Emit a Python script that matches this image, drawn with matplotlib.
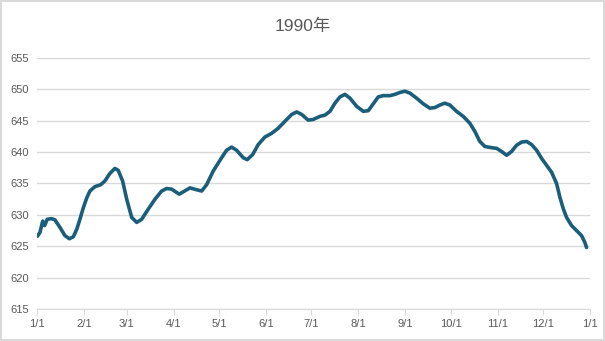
import numpy as np
import pandas as pd
from matplotlib import pyplot as plt

# day offset from 1990-01-01 and value
days = [0, 1.7, 3.5, 4.8, 6.5, 9.4, 11.6, 14.9, 18.2, 21.1, 23.7, 26, 28.1, 30.3, 32.6,
        34.7, 38, 41.8, 44.6, 47.9, 51.2, 53.4, 56.3, 59, 62.3, 65.6, 68.9, 73.2, 77.7,
        82.1, 85.4, 88.7, 93.7, 100.8, 105.2, 108.5, 111.8, 116.2, 121.7, 125, 128.3,
        131.6, 136, 138.6, 142.2, 145.9, 150.3, 154.8, 159.1, 163.5, 168, 171.3, 174.6,
        178.9, 182.2, 186.7, 190, 193.3, 196.6, 199.9, 203.2, 206.5, 210.9, 215.3, 218.6,
        221.9, 225.2, 228.5, 232.9, 236.2, 239.5, 242.8, 246.1, 250.5, 254.9, 259.3,
        262.6, 265.9, 269.2, 272.5, 276.9, 281.3, 285.7, 289, 292.3, 295.6, 300.1, 303.4,
        306.7, 310, 313.3, 316.6, 319.9, 323.2, 326.5, 329.8, 333.1, 336.4, 339.7, 343,
        345.2, 347.4, 349.6, 352.9, 356.2, 359.5, 361.7, 362.8]
values = [626.6, 627.2, 629.0, 628.3, 629.3, 629.4, 629.2, 628.0, 626.7, 626.2, 626.5,
          627.7, 629.3, 631.1, 632.7, 633.8, 634.5, 634.8, 635.4, 636.6, 637.4, 637.1,
          635.4, 632.5, 629.6, 628.8, 629.3, 630.9, 632.5, 633.8, 634.2, 634.1, 633.3,
          634.3, 634.0, 633.8, 634.8, 637.0, 639.1, 640.3, 640.8, 640.3, 639.1, 638.8,
          639.6, 641.2, 642.4, 643.0, 643.8, 644.9, 646.0, 646.4, 646.0, 645.1, 645.2,
          645.7, 645.9, 646.5, 647.8, 648.8, 649.2, 648.6, 647.3, 646.5, 646.6, 647.7,
          648.8, 649.0, 649.0, 649.2, 649.5, 649.7, 649.4, 648.6, 647.7, 647.0, 647.1,
          647.5, 647.8, 647.5, 646.5, 645.7, 644.6, 643.3, 641.7, 640.9, 640.7, 640.6,
          640.1, 639.5, 640.1, 641.1, 641.6, 641.7, 641.2, 640.3, 639.0, 637.9, 636.8,
          635.0, 632.8, 631.0, 629.6, 628.3, 627.5, 626.7, 625.6, 624.8]

title = "1990年"
yticks = [615, 620, 625, 630, 635, 640, 645, 650, 655]

start = pd.Timestamp("1990-01-01")
month_starts = pd.date_range("1990-01-01", "1991-01-01", freq="MS")
tick_pos = [(d - start).days for d in month_starts]
tick_lab = [f"{d.month}/{d.day}" for d in month_starts]

txt = "#595959"
grid = "#d9d9d9"

plt.rcParams['font.family'] = ['Liberation Sans', 'Noto Sans CJK SC', 'DejaVu Sans']

fig = plt.figure(figsize=(6.05, 3.41), dpi=100)
fig.patch.set_edgecolor(grid)
fig.patch.set_linewidth(1.5)
ax = fig.add_axes([0.0618, 0.0938, 0.9132, 0.7362])

ax.plot(days, values, color="#1b5e7b", lw=2.6, solid_capstyle="round", solid_joinstyle="round")

ax.set_xlim(0, 365)
ax.set_ylim(615, 655)
ax.set_yticks(yticks)
ax.set_xticks(tick_pos)
ax.set_xticklabels(tick_lab)
ax.grid(axis="y", color=grid, lw=1)
ax.set_axisbelow(True)
for s in ["left", "right", "top"]:
    ax.spines[s].set_visible(False)
ax.spines["bottom"].set_color(grid)
ax.tick_params(axis="y", length=0, pad=6, labelsize=8, labelcolor=txt)
ax.tick_params(axis="x", length=4, color=grid, pad=3, labelsize=8, labelcolor=txt)

fig.text(0.5, 0.924, title, ha="center", va="center", fontsize=12.5, color=txt)

fig.savefig("out.png", dpi=100)
